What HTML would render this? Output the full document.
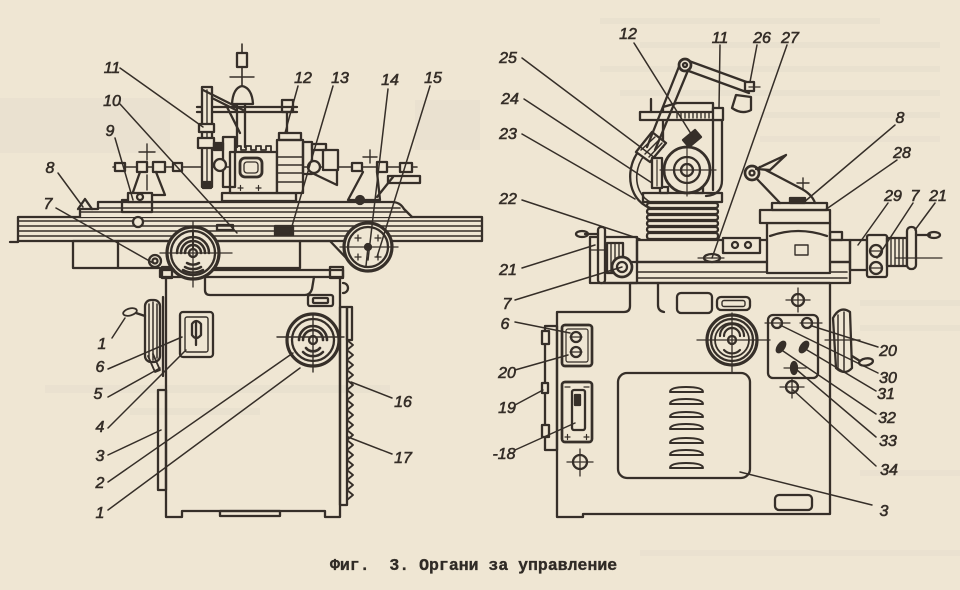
<!DOCTYPE html>
<html><head><meta charset="utf-8">
<style>
html,body{margin:0;padding:0;background:#efe6d3;}
svg{display:block}
.l{font-family:"Liberation Sans",sans-serif;font-style:italic;font-size:16px;fill:#352e28;stroke:#352e28;stroke-width:0.6;text-anchor:middle}
.cap{font-family:"Liberation Mono",monospace;font-weight:bold;font-size:16.5px;fill:#302b26;stroke:#302b26;stroke-width:0.35}
</style></head><body>
<svg width="960" height="590" viewBox="0 0 960 590" xmlns="http://www.w3.org/2000/svg">
<rect width="960" height="590" fill="#efe6d3"/>
<g fill="#6c7080" opacity="0.035">
<rect x="0" y="98" width="170" height="55"/>
<rect x="415" y="100" width="65" height="50"/>
<rect x="600" y="18" width="280" height="6"/>
<rect x="640" y="42" width="300" height="6"/>
<rect x="600" y="66" width="340" height="6"/>
<rect x="620" y="90" width="320" height="6"/>
<rect x="760" y="112" width="180" height="6"/>
<rect x="760" y="136" width="180" height="6"/>
<rect x="860" y="300" width="100" height="6"/>
<rect x="860" y="325" width="100" height="6"/>
<rect x="45" y="385" width="345" height="8"/>
<rect x="130" y="408" width="130" height="7"/>
<rect x="860" y="470" width="100" height="6"/>
<rect x="640" y="550" width="320" height="6"/>
</g>
<g fill="none" stroke="#362f29" stroke-width="2.3" stroke-linejoin="round" stroke-linecap="round">
<path d="M166,277 V517 H182 V511 H325 V517 H340 V277"/>
<rect x="220" y="511" width="60" height="5"/>
<rect x="160" y="270" width="183" height="7"/>
<rect x="162" y="267" width="10" height="11"/>
<rect x="330" y="267" width="13" height="11"/>
<path d="M205,277 V290 Q205,295 210,295 H305 Q310,295 312,289 L314,277"/>
<rect x="308" y="295" width="25" height="11" rx="2"/>
<rect x="313" y="298" width="15" height="5" rx="1"/>
<path d="M343,283 A5,5 0 0 1 343,293"/>
<rect x="340" y="307" width="7" height="198"/>
<rect x="347" y="307" width="5" height="33"/>
<path d="M347,340 L353,345 L347,350 L353,355 L347,360 L353,365 L347,370 L353,375 L347,380 L353,385 L347,390 L353,395 L347,400 L353,405 L347,410 L353,415 L347,420 L353,425 L347,430 L353,435 L347,440 L353,445 L347,450 L353,455 L347,460 L353,465 L347,470 L353,475 L347,480 L353,485 L347,490 L353,495 L347,500" stroke-width="1.8"/>
<rect x="158" y="390" width="8" height="100"/>
<rect x="180" y="312" width="33" height="45" rx="3"/>
<rect x="185" y="317" width="23" height="35" rx="2" stroke-width="1.4"/>
<path d="M192,335 V324 Q196,318 201,324 V335 Q196,341 192,335 Z"/>
<line x1="196" y1="322" x2="196" y2="345"/>
<circle cx="313" cy="340" r="26" fill="#efe6d3" stroke-width="3.2"/>
<circle cx="313" cy="340" r="21"/>
<path d="M299,340 A14,14 0 0 1 327,340 M303,340 A10,10 0 0 1 323,340" stroke-width="2.6"/>
<path d="M303,352 A14,14 0 0 0 323,352 M306,348 A9,9 0 0 0 320,348" stroke-width="2.6"/>
<circle cx="313" cy="340" r="4"/>
<line x1="277" y1="337" x2="344" y2="337" stroke-width="1.4"/>
<line x1="313" y1="315" x2="313" y2="372" stroke-width="1.4"/>
<rect x="145" y="300" width="15" height="62" rx="6"/>
<line x1="149" y1="304" x2="149" y2="358" stroke-width="1.5"/>
<line x1="153" y1="302" x2="153" y2="360" stroke-width="1.5"/>
<line x1="157" y1="304" x2="157" y2="358" stroke-width="1.5"/>
<line x1="163" y1="297" x2="163" y2="376"/>
<ellipse cx="130" cy="312" rx="7" ry="3.5" transform="rotate(-15 130 312)" stroke-width="1.8"/>
<line x1="136" y1="313" x2="145" y2="316"/>
<path d="M148,356 L155,372 L160,370 L153,354" stroke-width="1.8"/>
<rect x="18" y="217" width="464" height="24"/>
<g stroke-width="1.6">
<line x1="18" y1="221" x2="482" y2="221"/>
<line x1="18" y1="226" x2="482" y2="226"/>
<line x1="18" y1="231" x2="482" y2="231"/>
<line x1="18" y1="236" x2="482" y2="236"/>
</g>
<line x1="10" y1="242" x2="18" y2="242"/>
<path d="M80,217 V209 H98 V202 H392 Q400,202 404,209 L412,217" fill="#efe6d3"/>
<line x1="98" y1="208" x2="400" y2="208" stroke-width="1.6"/>
<line x1="80" y1="212" x2="406" y2="212" stroke-width="1.6"/>
<path d="M78,209 L85,199 L92,209"/>
<rect x="122" y="200" width="30" height="12"/>
<circle cx="138" cy="222" r="5" fill="#efe6d3"/>
<rect x="275" y="226" width="18" height="9" fill="#362f29"/>
<rect x="217" y="225" width="16" height="5"/>
<rect x="73" y="241" width="227" height="27"/>
<line x1="118" y1="241" x2="118" y2="268"/>
<path d="M300,241 H330 L350,262"/>
<circle cx="193" cy="253" r="26" fill="#efe6d3" stroke-width="3.2"/>
<circle cx="193" cy="253" r="22"/>
<path d="M177,253 A16,16 0 0 1 209,253 M181,253 A12,12 0 0 1 205,253 M185,253 A8,8 0 0 1 201,253" stroke-width="2.5"/>
<path d="M187,263 A12,12 0 0 0 199,263 M185,267 A16,16 0 0 0 201,267 M183,270 A20,20 0 0 0 203,270" stroke-width="2.5"/>
<line x1="193" y1="231" x2="193" y2="249" stroke-width="2"/>
<circle cx="193" cy="253" r="4" fill="#efe6d3"/>
<line x1="160" y1="253" x2="232" y2="253" stroke-width="1.3"/>
<line x1="193" y1="222" x2="193" y2="287" stroke-width="1.3"/>
<circle cx="155" cy="261" r="6" fill="#efe6d3"/>
<circle cx="155" cy="261" r="2.5"/>
<circle cx="368" cy="247" r="24" fill="#efe6d3" stroke-width="3.2"/>
<circle cx="368" cy="247" r="20"/>
<circle cx="368" cy="247" r="3" fill="#362f29"/>
<line x1="340" y1="247" x2="398" y2="247" stroke-width="1.3"/>
<line x1="368" y1="247" x2="366" y2="266" stroke-width="1.5"/>
<path d="M355,238 h6 M358,235 v6 M375,238 h6 M378,235 v6 M355,257 h6 M358,254 v6 M375,257 h6 M378,254 v6" stroke-width="1.3"/>
<line x1="113" y1="167" x2="417" y2="167" stroke-width="1.6"/>
<rect x="115" y="163" width="10" height="8" fill="#efe6d3"/>
<rect x="137" y="162" width="10" height="10" fill="#efe6d3"/>
<rect x="153" y="162" width="12" height="10" fill="#efe6d3"/>
<rect x="173" y="163" width="9" height="8" fill="#efe6d3"/>
<line x1="147" y1="144" x2="147" y2="160" stroke-width="1.4"/>
<line x1="139" y1="152" x2="155" y2="152" stroke-width="1.4"/>
<path d="M140,172 L132,195 H165 L156,172"/>
<line x1="147" y1="175" x2="147" y2="190" stroke-width="1.4"/>
<rect x="128" y="193" width="24" height="9" fill="#efe6d3"/>
<circle cx="140" cy="197" r="3"/>
<line x1="370" y1="150" x2="370" y2="163" stroke-width="1.4"/>
<line x1="363" y1="157" x2="377" y2="157" stroke-width="1.4"/>
<path d="M363,172 L348,200 H380 L377,172"/>
<rect x="352" y="163" width="10" height="8" fill="#efe6d3"/>
<rect x="377" y="162" width="10" height="10" fill="#efe6d3"/>
<rect x="400" y="163" width="12" height="9" fill="#efe6d3"/>
<rect x="388" y="176" width="32" height="7"/>
<path d="M377,197 L393,177"/>
<circle cx="360" cy="200" r="4" fill="#362f29"/>
<rect x="222" y="193" width="74" height="8"/>
<rect x="230" y="152" width="47" height="41" fill="#efe6d3"/>
<rect x="240" y="158" width="22" height="19" rx="5" stroke-width="2.8"/>
<rect x="244" y="162" width="14" height="11" rx="3" stroke-width="1.3"/>
<path d="M236,152 V146 H241 V150 H246 V146 H251 V150 H256 V146 H261 V150 H266 V146 H271 V152" stroke-width="1.8"/>
<path d="M238,188 h5 M240.5,185.5 v5 M256,188 h5 M258.5,185.5 v5" stroke-width="1.2"/>
<rect x="277" y="140" width="26" height="53" fill="#efe6d3"/>
<g stroke-width="1.6">
<line x1="277" y1="157" x2="303" y2="157"/>
<line x1="277" y1="165" x2="303" y2="165"/>
<line x1="277" y1="173" x2="303" y2="173"/>
<line x1="277" y1="182" x2="303" y2="182"/>
</g>
<rect x="279" y="133" width="22" height="7"/>
<line x1="287" y1="112" x2="287" y2="133"/>
<rect x="282" y="100" width="11" height="12" fill="#efe6d3"/>
<line x1="197" y1="107" x2="297" y2="107"/>
<line x1="197" y1="112" x2="297" y2="112"/>
<rect x="303" y="142" width="9" height="32"/>
<circle cx="314" cy="167" r="6" fill="#efe6d3"/>
<rect x="323" y="150" width="15" height="20" fill="#efe6d3"/>
<rect x="312" y="144" width="14" height="6"/>
<path d="M312,173 L337,185 V170"/>
<rect x="202" y="87" width="10" height="100" fill="#efe6d3"/>
<line x1="207" y1="90" x2="207" y2="185" stroke-width="1.4"/>
<rect x="199" y="124" width="15" height="8" fill="#efe6d3"/>
<rect x="198" y="138" width="16" height="10" fill="#efe6d3"/>
<rect x="203" y="182" width="8" height="6" fill="#362f29"/>
<path d="M203,90 L243,110 M212,98 L236,110 M227,107 L240,133"/>
<rect x="223" y="137" width="12" height="50"/>
<circle cx="220" cy="165" r="6" fill="#efe6d3"/>
<rect x="214" y="143" width="9" height="7" fill="#362f29"/>
<line x1="242" y1="44" x2="242" y2="103" stroke-width="1.6"/>
<rect x="237" y="53" width="10" height="14" fill="#efe6d3"/>
<line x1="230" y1="77" x2="254" y2="77" stroke-width="1.4"/>
<path d="M232,104 Q233,88 242,86 Q252,88 253,104 Z" fill="#efe6d3"/>
<line x1="237" y1="104" x2="237" y2="147"/>
<line x1="245" y1="104" x2="245" y2="147"/>
<path d="M583,514 H830 V283 H630 V306 Q630,312 624,312 H557 V517 H583 Z"/>
<path d="M658,283 V305 Q658,311 664,312"/>
<rect x="545" y="326" width="12" height="124"/>
<rect x="542" y="331" width="7" height="13" fill="#efe6d3"/>
<rect x="542" y="383" width="6" height="10" fill="#efe6d3"/>
<rect x="542" y="425" width="7" height="12" fill="#efe6d3"/>
<rect x="562" y="325" width="30" height="41" rx="3" stroke-width="2.7"/>
<rect x="566" y="329" width="22" height="33" rx="2" stroke-width="1.2"/>
<circle cx="576" cy="337" r="5"/>
<circle cx="576" cy="352" r="5"/>
<line x1="570" y1="337" x2="582" y2="337" stroke-width="1.2"/>
<line x1="570" y1="352" x2="582" y2="352" stroke-width="1.2"/>
<rect x="562" y="382" width="30" height="60" rx="3" stroke-width="2.7"/>
<rect x="572" y="390" width="13" height="40" rx="2"/>
<rect x="575" y="395" width="5" height="10" fill="#362f29"/>
<path d="M565,437 h5 M567.5,434.5 v5 M584,437 h5 M586.5,434.5 v5 M565,387 h5 M584,387 h5" stroke-width="1.2"/>
<circle cx="580" cy="462" r="7"/>
<line x1="567" y1="462" x2="593" y2="462" stroke-width="1.3"/>
<line x1="580" y1="449" x2="580" y2="476" stroke-width="1.3"/>
<rect x="677" y="293" width="35" height="20" rx="4"/>
<rect x="717" y="297" width="33" height="13" rx="4"/>
<rect x="722" y="300.5" width="23" height="6" rx="2" stroke-width="1.4"/>
<circle cx="798" cy="300" r="6"/>
<line x1="786" y1="300" x2="810" y2="300" stroke-width="1.3"/>
<line x1="798" y1="288" x2="798" y2="312" stroke-width="1.3"/>
<circle cx="732" cy="340" r="25" stroke-width="3.2"/>
<circle cx="732" cy="340" r="21"/>
<circle cx="732" cy="340" r="17" stroke-width="1.8"/>
<path d="M720,336 A12,12 0 0 1 744,336 M724,336 A8,8 0 0 1 740,336" stroke-width="2.2"/>
<path d="M724,350 A11,11 0 0 0 740,350" stroke-width="2.2"/>
<circle cx="732" cy="340" r="4"/>
<line x1="697" y1="340" x2="770" y2="340" stroke-width="1.3"/>
<line x1="732" y1="313" x2="732" y2="372" stroke-width="1.3"/>
<rect x="768" y="315" width="50" height="63" rx="5"/>
<circle cx="777" cy="323" r="5"/>
<circle cx="807" cy="323" r="5"/>
<line x1="765" y1="323" x2="790" y2="323" stroke-width="1.2"/>
<line x1="800" y1="323" x2="822" y2="323" stroke-width="1.2"/>
<ellipse cx="781" cy="347" rx="3" ry="6" transform="rotate(35 781 347)" fill="#362f29"/>
<ellipse cx="804" cy="347" rx="3" ry="6" transform="rotate(35 804 347)" fill="#362f29"/>
<ellipse cx="794" cy="368" rx="3" ry="6" fill="#362f29"/>
<line x1="784" y1="368" x2="806" y2="368" stroke-width="1.2"/>
<circle cx="792" cy="387" r="6"/>
<line x1="780" y1="387" x2="804" y2="387" stroke-width="1.3"/>
<line x1="792" y1="378" x2="792" y2="398" stroke-width="1.3"/>
<rect x="618" y="373" width="132" height="105" rx="9"/>
<g stroke-width="2">
<path d="M670,392 Q670,387 686,387 Q703,387 703,392 Z"/>
<path d="M670,404 Q670,399 686,399 Q703,399 703,404 Z"/>
<path d="M670,417 Q670,412 686,412 Q703,412 703,417 Z"/>
<path d="M670,429 Q670,424 686,424 Q703,424 703,429 Z"/>
<path d="M670,443 Q670,438 686,438 Q703,438 703,443 Z"/>
<path d="M670,455 Q670,450 686,450 Q703,450 703,455 Z"/>
<path d="M670,468 Q670,463 686,463 Q703,463 703,468 Z"/>
</g>
<rect x="775" y="495" width="37" height="15" rx="4"/>
<path d="M833,318 Q840,305 850,312 L852,368 Q845,376 836,368 Z"/>
<line x1="838" y1="315" x2="838" y2="368" stroke-width="1.5"/>
<line x1="844" y1="312" x2="844" y2="372" stroke-width="1.5"/>
<ellipse cx="866" cy="362" rx="7" ry="3.5" transform="rotate(-10 866 362)"/>
<line x1="852" y1="356" x2="860" y2="361"/>
<line x1="825" y1="340" x2="860" y2="340" stroke-width="1.2"/>
<rect x="600" y="262" width="250" height="21"/>
<line x1="637" y1="272" x2="847" y2="272" stroke-width="1.6"/>
<line x1="637" y1="278" x2="847" y2="278" stroke-width="1.6"/>
<rect x="637" y="240" width="213" height="22"/>
<rect x="590" y="237" width="47" height="46"/>
<rect x="607" y="243" width="16" height="30" fill="#efe6d3"/>
<line x1="611" y1="244" x2="611" y2="272" stroke-width="1.4"/>
<line x1="615" y1="244" x2="615" y2="272" stroke-width="1.4"/>
<line x1="619" y1="244" x2="619" y2="272" stroke-width="1.4"/>
<circle cx="622" cy="267" r="10" fill="#efe6d3" stroke-width="2.7"/>
<circle cx="622" cy="267" r="5"/>
<rect x="598" y="227" width="7" height="56" rx="3" fill="#efe6d3"/>
<line x1="585" y1="234" x2="598" y2="234"/>
<ellipse cx="582" cy="234" rx="6" ry="3"/>
<line x1="590" y1="250" x2="607" y2="250" stroke-width="1.2"/>
<rect x="850" y="240" width="17" height="30"/>
<rect x="867" y="235" width="20" height="42" rx="2" fill="#efe6d3"/>
<circle cx="876" cy="251" r="6"/>
<circle cx="876" cy="268" r="6"/>
<line x1="870" y1="251" x2="882" y2="251" stroke-width="1.2"/>
<line x1="870" y1="268" x2="882" y2="268" stroke-width="1.2"/>
<rect x="887" y="238" width="20" height="28"/>
<line x1="891" y1="239" x2="891" y2="265" stroke-width="1.4"/>
<line x1="895" y1="239" x2="895" y2="265" stroke-width="1.4"/>
<line x1="899" y1="239" x2="899" y2="265" stroke-width="1.4"/>
<line x1="903" y1="239" x2="903" y2="265" stroke-width="1.4"/>
<rect x="907" y="227" width="9" height="42" rx="4" fill="#efe6d3"/>
<line x1="916" y1="235" x2="930" y2="235"/>
<ellipse cx="934" cy="235" rx="6" ry="3"/>
<line x1="895" y1="258" x2="942" y2="258" stroke-width="1.2"/>
<rect x="647" y="203" width="71" height="5" rx="2.5"/>
<rect x="647" y="209" width="71" height="5" rx="2.5"/>
<rect x="647" y="215" width="71" height="5" rx="2.5"/>
<rect x="647" y="221" width="71" height="5" rx="2.5"/>
<rect x="647" y="227" width="71" height="5" rx="2.5"/>
<rect x="647" y="233" width="71" height="6" rx="2.5"/>
<rect x="643" y="193" width="79" height="9"/>
<rect x="660" y="187" width="8" height="6"/>
<rect x="695" y="187" width="8" height="6"/>
<path d="M663,147 V107 L677,103 H713 V190"/>
<path d="M722,113 V180 Q722,195 706,196"/>
<rect x="640" y="112" width="82" height="8" fill="#efe6d3"/>
<path d="M677,113 v5 M681,113 v5 M685,113 v5 M689,113 v5 M693,113 v5 M697,113 v5 M701,113 v5 M705,113 v5 M709,113 v5" stroke-width="1.4"/>
<rect x="713" y="108" width="10" height="12" fill="#efe6d3"/>
<line x1="651" y1="99" x2="651" y2="112"/>
<path d="M655,140 C626,148 620,196 650,208"/>
<path d="M658,146 C634,153 628,192 652,203" stroke-width="1.6"/>
<path d="M636,152 L652,132 L666,143 L650,162 Z" fill="#efe6d3"/>
<path d="M641,150 L655,137 M645,154 L659,140 M649,157 L662,143" stroke-width="1.5"/>
<rect x="652" y="158" width="10" height="30" fill="#efe6d3"/>
<line x1="657" y1="160" x2="657" y2="186" stroke-width="1.2"/>
<circle cx="687" cy="170" r="23" fill="#efe6d3" stroke-width="2.7"/>
<circle cx="687" cy="170" r="13"/>
<circle cx="687" cy="170" r="6"/>
<line x1="660" y1="170" x2="716" y2="170" stroke-width="1.2"/>
<line x1="687" y1="143" x2="687" y2="196" stroke-width="1.2"/>
<path d="M683,140 L695,130 L701,137 L689,147 Z" fill="#362f29"/>
<line x1="647" y1="147" x2="680" y2="64"/>
<line x1="655" y1="150" x2="689" y2="68"/>
<line x1="689" y1="61" x2="752" y2="84"/>
<line x1="686" y1="70" x2="749" y2="93"/>
<circle cx="685" cy="65" r="6" fill="#efe6d3" stroke-width="2.7"/>
<circle cx="685" cy="65" r="2"/>
<rect x="745" y="82" width="9" height="9" fill="#efe6d3"/>
<path d="M736,95 L751,97 L751,110 Q742,115 732,108 Z" fill="#efe6d3"/>
<line x1="749" y1="87" x2="760" y2="87" stroke-width="1.3"/>
<rect x="767" y="223" width="63" height="50" fill="#efe6d3"/>
<path d="M770,236 Q798,226 827,236"/>
<rect x="760" y="210" width="70" height="13" fill="#efe6d3"/>
<rect x="772" y="203" width="55" height="7"/>
<rect x="790" y="198" width="15" height="5" fill="#362f29"/>
<rect x="795" y="245" width="13" height="10" stroke-width="1.4"/>
<rect x="830" y="232" width="12" height="8"/>
<line x1="757" y1="179" x2="780" y2="203"/>
<path d="M760,167 L800,188 Q812,194 815,203"/>
<line x1="803" y1="178" x2="803" y2="190" stroke-width="1.4"/>
<line x1="797" y1="183" x2="809" y2="183" stroke-width="1.4"/>
<circle cx="752" cy="173" r="7" fill="#efe6d3" stroke-width="2.7"/>
<circle cx="752" cy="173" r="2.5"/>
<path d="M756,169 L786,155 L770,170 Z" fill="#efe6d3"/>
<rect x="723" y="238" width="37" height="15" fill="#efe6d3"/>
<circle cx="735" cy="245" r="3"/>
<circle cx="748" cy="245" r="3"/>
<ellipse cx="712" cy="258" rx="8" ry="4" fill="#efe6d3"/>
<line x1="698" y1="258" x2="724" y2="258" stroke-width="1.2"/>
<g stroke-width="1.5" stroke="#352e28">
<line x1="120" y1="68" x2="203" y2="127"/>
<line x1="120" y1="104" x2="237" y2="233"/>
<line x1="115" y1="138" x2="133" y2="200"/>
<line x1="58" y1="173" x2="83" y2="207"/>
<line x1="56" y1="208" x2="153" y2="263"/>
<line x1="298" y1="86" x2="285" y2="133"/>
<line x1="333" y1="86" x2="290" y2="233"/>
<line x1="388" y1="89" x2="368" y2="260"/>
<line x1="430" y1="86" x2="377" y2="257"/>
<line x1="112" y1="338" x2="125" y2="318"/>
<line x1="108" y1="369" x2="182" y2="337"/>
<line x1="108" y1="397" x2="160" y2="368"/>
<line x1="108" y1="428" x2="186" y2="350"/>
<line x1="108" y1="455" x2="161" y2="430"/>
<line x1="108" y1="482" x2="293" y2="353"/>
<line x1="108" y1="510" x2="300" y2="368"/>
<line x1="392" y1="398" x2="351" y2="382"/>
<line x1="392" y1="454" x2="348" y2="437"/>
<line x1="522" y1="58" x2="655" y2="158"/>
<line x1="524" y1="99" x2="652" y2="183"/>
<line x1="522" y1="134" x2="635" y2="199"/>
<line x1="522" y1="200" x2="640" y2="239"/>
<line x1="522" y1="268" x2="595" y2="245"/>
<line x1="634" y1="43" x2="693" y2="137"/>
<line x1="720" y1="45" x2="719" y2="108"/>
<line x1="757" y1="45" x2="750" y2="82"/>
<line x1="787" y1="45" x2="712" y2="258"/>
<line x1="895" y1="125" x2="803" y2="203"/>
<line x1="897" y1="160" x2="825" y2="210"/>
<line x1="888" y1="203" x2="858" y2="245"/>
<line x1="913" y1="203" x2="877" y2="258"/>
<line x1="935" y1="203" x2="915" y2="230"/>
<line x1="515" y1="300" x2="622" y2="267"/>
<line x1="515" y1="322" x2="570" y2="333"/>
<line x1="515" y1="370" x2="568" y2="355"/>
<line x1="515" y1="405" x2="543" y2="390"/>
<line x1="515" y1="450" x2="575" y2="423"/>
<line x1="878" y1="347" x2="812" y2="326"/>
<line x1="878" y1="373" x2="780" y2="325"/>
<line x1="876" y1="391" x2="807" y2="350"/>
<line x1="876" y1="414" x2="783" y2="351"/>
<line x1="876" y1="437" x2="797" y2="370"/>
<line x1="876" y1="466" x2="793" y2="390"/>
<line x1="872" y1="505" x2="740" y2="472"/>
</g>
</g>
<g class="l">
<text x="112" y="73">11</text>
<text x="112" y="106">10</text>
<text x="110" y="136">9</text>
<text x="50" y="173">8</text>
<text x="48" y="209">7</text>
<text x="303" y="83">12</text>
<text x="340" y="83">13</text>
<text x="390" y="85">14</text>
<text x="433" y="83">15</text>
<text x="102" y="349">1</text>
<text x="100" y="372">6</text>
<text x="98" y="399">5</text>
<text x="100" y="432">4</text>
<text x="100" y="461">3</text>
<text x="100" y="488">2</text>
<text x="100" y="518">1</text>
<text x="403" y="407">16</text>
<text x="403" y="463">17</text>
<text x="508" y="63">25</text>
<text x="510" y="104">24</text>
<text x="508" y="139">23</text>
<text x="508" y="204">22</text>
<text x="508" y="275">21</text>
<text x="628" y="39">12</text>
<text x="720" y="43">11</text>
<text x="762" y="43">26</text>
<text x="790" y="43">27</text>
<text x="900" y="123">8</text>
<text x="902" y="158">28</text>
<text x="893" y="201">29</text>
<text x="915" y="201">7</text>
<text x="938" y="201">21</text>
<text x="507" y="309">7</text>
<text x="505" y="329">6</text>
<text x="507" y="378">20</text>
<text x="507" y="413">19</text>
<text x="504" y="459">-18</text>
<text x="888" y="356">20</text>
<text x="888" y="383">30</text>
<text x="886" y="399">31</text>
<text x="887" y="423">32</text>
<text x="888" y="446">33</text>
<text x="889" y="475">34</text>
<text x="884" y="516">3</text>
</g>
<text class="cap" x="330" y="570" xml:space="preserve">Фиг.  3. Органи за управление</text>
</svg>
</body></html>
